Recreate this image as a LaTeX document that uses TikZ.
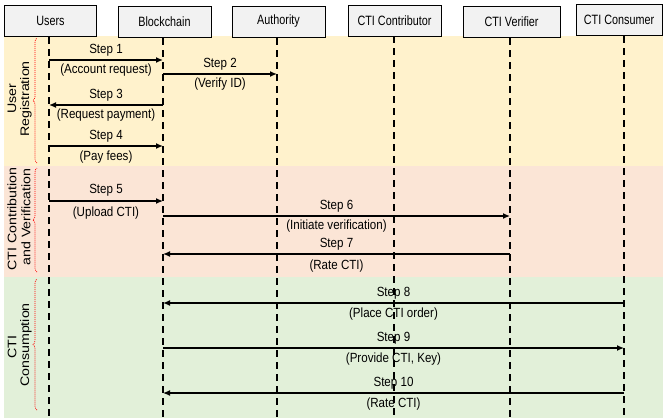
\documentclass[tikz,border=0pt]{standalone}
\usepackage{fontspec}
\setmainfont{Liberation Sans}
\newfontfamily\narrowfont{Liberation Sans}[FakeStretch=0.87]
\newfontfamily\actorfont{Liberation Sans}[FakeStretch=0.8]
\usetikzlibrary{arrows.meta,decorations.pathreplacing}
\definecolor{bandY}{HTML}{FFF2CC}
\definecolor{bandP}{HTML}{FBE5D6}
\definecolor{bandG}{HTML}{E2F0D9}
\definecolor{boxfill}{HTML}{F2F2F2}
\newcommand{\squash}[1]{\scalebox{1}[0.87]{#1}}
\tikzset{
  actor/.style={draw=black, fill=boxfill, line width=0.8pt, minimum height=31pt, inner sep=0pt, font=\actorfont\fontsize{13.5}{14}\selectfont},
  life/.style={line width=1.4pt, dash pattern=on 7pt off 5pt},
  msg/.style={line width=1.3pt, -{Latex[length=7pt,width=6pt]}},
  lab/.style={font=\narrowfont\fontsize{13.3}{14}\selectfont, inner sep=0pt},
  grp/.style={font=\fontsize{14.2}{15}\selectfont, rotate=90, inner sep=0pt},
  brc/.style={red, line width=0.7pt, dash pattern=on 1pt off 1pt, decorate, decoration={brace, amplitude=4pt}}
}
\begin{document}
\begin{tikzpicture}[x=1pt,y=-1pt]
\useasboundingbox (0,0) rectangle (663,418);
\fill[white] (0,0) rectangle (663,418);
% bands
\fill[bandY] (4,36) rectangle (663,166);
\fill[bandP] (4,166) rectangle (663,277);
\fill[bandG] (4,277) rectangle (663,418);
% actors
\node[actor, minimum width=92pt] (users) at (50.5,20.5) {Users};
\node[actor, minimum width=93pt] (bc) at (164.5,21.5) {Blockchain};
\node[actor, minimum width=93pt] (auth) at (278.5,21.5) {Authority};
\node[actor, minimum width=93pt] (contr) at (394.5,20.5) {CTI Contributor};
\node[actor, minimum width=97pt] (verif) at (511.5,21.5) {CTI Verifier};
\node[actor, minimum width=86pt] (cons) at (619,19.5) {CTI Consumer};
% lifeline ends
\coordinate (uB) at (49,418);
\coordinate (bB) at (163,418);
\coordinate (aB) at (277,418);
\coordinate (cB) at (394,418);
\coordinate (vB) at (510,418);
\coordinate (kB) at (624,418);
\draw[life] (49,37) -- (uB);
\draw[life] (163,38) -- (bB);
\draw[life] (277,38) -- (aB);
\draw[life] (394,36) -- (cB);
\draw[life] (510,38) -- (vB);
\draw[life] (624,36) -- (kB);
% lifeline points
\foreach \n/\y in {1/60,2/74,3/105,4/146,5/201,6/216,7/254,8/303,9/348,10/393}{
  \coordinate (u\n) at (49,\y);
  \coordinate (b\n) at (163,\y);
  \coordinate (a\n) at (277,\y);
  \coordinate (v\n) at (510,\y);
  \coordinate (k\n) at (624,\y);
}
% messages
\draw[msg] (u1) -- node[lab, above=3.5pt] {Step 1} node[lab, below=3.5pt] {(Account request)} (b1);
\draw[msg] (b2) -- node[lab, above=3.5pt] {Step 2} node[lab, below=3.5pt] {(Verify ID)} (a2);
\draw[msg] (b3) -- node[lab, above=3.5pt] {Step 3} node[lab, below=3.5pt] {(Request payment)} (u3);
\draw[msg] (u4) -- node[lab, above=3.5pt] {Step 4} node[lab, below=4.5pt] {(Pay fees)} (b4);
\draw[msg] (u5) -- node[lab, above=4.5pt] {Step 5} node[lab, below=5.5pt] {(Upload CTI)} (b5);
\draw[msg] (b6) -- node[lab, above=3.5pt] {Step 6} node[lab, below=3.5pt] {(Initiate verification)} (v6);
\draw[msg] (v7) -- node[lab, above=3.5pt] {Step 7} node[lab, below=5.5pt] {(Rate CTI)} (b7);
\draw[msg] (k8) -- node[lab, above=3.5pt] {Step 8} node[lab, below=4.5pt] {(Place CTI order)} (b8);
\draw[msg] (b9) -- node[lab, above=3.5pt] {Step 9} node[lab, below=4.5pt] {(Provide CTI, Key)} (k9);
\draw[msg] (k10) -- node[lab, above=3.5pt] {Step 10} node[lab, below=4.5pt] {(Rate CTI)} (b10);
% braces
\coordinate (r1b) at (37,163); \coordinate (r1t) at (37,38);
\coordinate (r2b) at (37,272); \coordinate (r2t) at (37,168);
\coordinate (r3b) at (37,410); \coordinate (r3t) at (37,279);
\draw[brc] (r1b) -- (r1t);
\draw[brc] (r2b) -- (r2t);
\draw[brc] (r3b) -- (r3t);
% group labels
\node[grp] (g1a) at (12,99) {\squash{User}};
\node[grp] (g1b) at (26,99) {\squash{Registration}};
\node[grp] (g2a) at (12,219) {\squash{CTI Contribution}};
\node[grp] (g2b) at (26,217) {\squash{and Verification}};
\node[grp] (g3a) at (12,347) {\squash{CTI}};
\node[grp] (g3b) at (26,345) {\squash{Consumption}};
\end{tikzpicture}
\end{document}
